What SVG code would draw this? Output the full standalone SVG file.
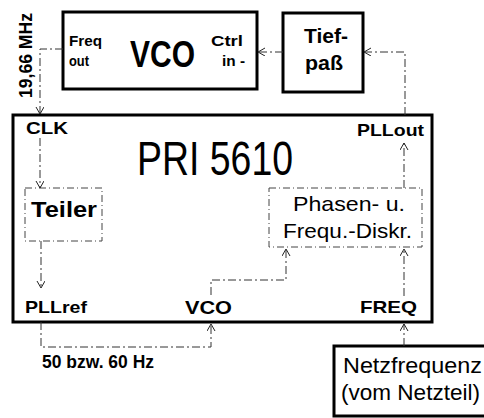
<svg xmlns="http://www.w3.org/2000/svg" width="484" height="418" viewBox="0 0 484 418">
<style>
.t{font-family:"Liberation Sans",Arial,Helvetica,sans-serif;fill:#000}
.b{font-weight:bold}
.box{fill:#fff;stroke:#000;stroke-width:3}
.dbox{fill:none;stroke:#444;stroke-width:1;stroke-dasharray:7 3 1 3}
.con{fill:none;stroke:#333;stroke-width:1;stroke-dasharray:8 3 2 3}
</style>
<defs>
<marker id="arr" markerUnits="userSpaceOnUse" markerWidth="10" markerHeight="10" refX="7" refY="4" orient="auto">
<path d="M0,0 L7,4 L0,8" fill="none" stroke="#222" stroke-width="1"/>
</marker>
</defs>
<rect width="484" height="418" fill="#fff"/>

<g id="vco">
<rect class="box" x="63" y="12" width="194" height="77"/>
<text class="t b" x="69" y="46" font-size="14" textLength="33" lengthAdjust="spacingAndGlyphs">Freq</text>
<text class="t b" x="69" y="66" font-size="14" textLength="20" lengthAdjust="spacingAndGlyphs">out</text>
<text class="t b" x="130" y="67" font-size="37" textLength="65" lengthAdjust="spacingAndGlyphs">VCO</text>
<text class="t b" x="211" y="46" font-size="14" textLength="32" lengthAdjust="spacingAndGlyphs">Ctrl</text>
<text class="t b" x="222" y="66" font-size="14" textLength="23" lengthAdjust="spacingAndGlyphs">in -</text>
</g>

<g id="freq-label">
<text class="t b" transform="translate(32,98) rotate(-90)" font-size="19" textLength="85" lengthAdjust="spacingAndGlyphs">19,66 MHz</text>
</g>

<g id="tiefpass">
<rect class="box" x="283" y="13" width="80" height="79"/>
<text class="t b" x="304" y="43" font-size="21" textLength="44" lengthAdjust="spacingAndGlyphs">Tief-</text>
<text class="t b" x="305" y="70" font-size="21" textLength="38" lengthAdjust="spacingAndGlyphs">paß</text>
</g>

<g id="pri5610">
<rect class="box" x="13" y="115" width="419" height="207"/>
<text class="t" x="137" y="175" font-size="48" textLength="156" lengthAdjust="spacingAndGlyphs">PRI 5610</text>
<text class="t b" x="26" y="134" font-size="17" textLength="42" lengthAdjust="spacingAndGlyphs">CLK</text>
<text class="t b" x="357" y="136" font-size="17" textLength="67" lengthAdjust="spacingAndGlyphs">PLLout</text>
<text class="t b" x="25" y="313" font-size="17" textLength="62" lengthAdjust="spacingAndGlyphs">PLLref</text>
<text class="t b" x="185" y="314" font-size="18" textLength="47" lengthAdjust="spacingAndGlyphs">VCO</text>
<text class="t b" x="360" y="313" font-size="17" textLength="57" lengthAdjust="spacingAndGlyphs">FREQ</text>
</g>

<g id="teiler">
<rect class="dbox" x="25" y="188" width="77" height="53"/>
<text class="t b" x="31" y="217" font-size="22" textLength="66" lengthAdjust="spacingAndGlyphs">Teiler</text>
</g>

<g id="phasen">
<rect class="dbox" x="269" y="188" width="153" height="59"/>
<text class="t" x="293" y="211" font-size="21" textLength="112" lengthAdjust="spacingAndGlyphs">Phasen- u.</text>
<text class="t" x="283" y="238" font-size="21" textLength="129" lengthAdjust="spacingAndGlyphs">Frequ.-Diskr.</text>
</g>

<g id="hz-label">
<text class="t b" x="42" y="368" font-size="18" textLength="112" lengthAdjust="spacingAndGlyphs">50 bzw. 60 Hz</text>
</g>

<g id="netz">
<rect class="box" x="334" y="346" width="160" height="70"/>
<text class="t" x="343" y="373" font-size="22" textLength="139" lengthAdjust="spacingAndGlyphs">Netzfrequenz</text>
<text class="t" x="341" y="400" font-size="22" textLength="139" lengthAdjust="spacingAndGlyphs">(vom Netzteil)</text>
</g>

<g id="connectors">
<path class="con" d="M63,49 H40 V114" marker-end="url(#arr)"/>
<path class="con" d="M283,52 H258" marker-end="url(#arr)"/>
<path class="con" d="M405,115 V52 H364" marker-end="url(#arr)"/>
<path class="con" d="M404,188 V143" marker-end="url(#arr)"/>
<path class="con" d="M40,138 V188" marker-end="url(#arr)"/>
<path class="con" d="M41,241 V288" marker-end="url(#arr)"/>
<path class="con" d="M41,322 V347 H211 V324" marker-end="url(#arr)"/>
<path class="con" d="M211,295 V280 H286 V249" marker-end="url(#arr)"/>
<path class="con" d="M404,296 V249" marker-end="url(#arr)"/>
<path class="con" d="M404,346 V324" marker-end="url(#arr)"/>
</g>
</svg>
